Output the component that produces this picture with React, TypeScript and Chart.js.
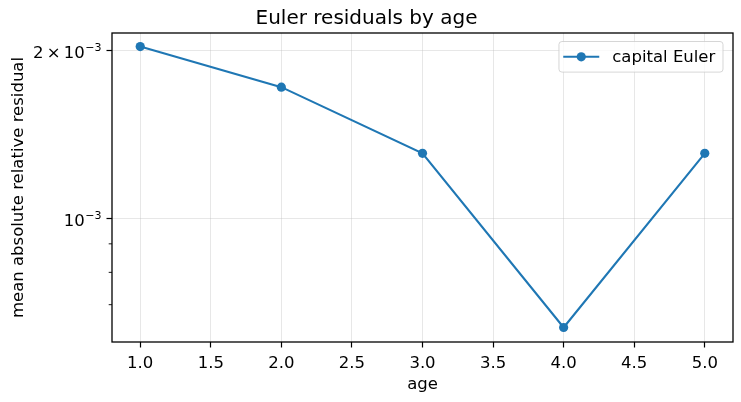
import React, { useEffect, useRef } from "react";
import { Chart, registerables } from "chart.js";

Chart.register(...registerables);

const ages = [1, 2, 3, 4, 5];
const capitalEuler = [2.033e-3, 1.719e-3, 1.308e-3, 6.37e-4, 1.308e-3];
const seriesLabel = "capital Euler";
const xTicks = [1, 1.5, 2, 2.5, 3, 3.5, 4, 4.5, 5];
const yMajorTicks = [1e-3, 2e-3];
const yMajorBase = ["10", "2\u2009×\u200910"];
const yMajorExp = ["−3", "−3"];
const yMinorTicks = [7e-4, 8e-4, 9e-4];
const chartTitle = "Euler residuals by age";
const xTitle = "age";
const yTitle = "mean absolute relative residual";

const BLUE = "#1f77b4";
const FONT = "'DejaVu Sans', sans-serif";
const GRID = "rgba(176,176,176,0.3)";
const FS = 16.5;
const SUP = 11;

const decorPlugin = {
  id: "decor",
  afterDraw(chart: any) {
    const { ctx, chartArea: a, scales } = chart;
    ctx.save();
    // minor ticks on y
    ctx.strokeStyle = "#000";
    ctx.lineWidth = 0.9;
    for (const v of yMinorTicks) {
      const py = scales.y.getPixelForValue(v);
      ctx.beginPath();
      ctx.moveTo(a.left - 3.3, py);
      ctx.lineTo(a.left, py);
      ctx.stroke();
    }
    // y major tick labels with superscript exponents
    ctx.fillStyle = "#000";
    ctx.textAlign = "right";
    ctx.textBaseline = "alphabetic";
    const xr = a.left - 10.5;
    yMajorTicks.forEach((v, i) => {
      const py = scales.y.getPixelForValue(v);
      ctx.font = `${SUP}px ${FONT}`;
      const sw = ctx.measureText(yMajorExp[i]).width;
      ctx.fillText(yMajorExp[i], xr, py + 0.5);
      ctx.font = `${FS}px ${FONT}`;
      ctx.fillText(yMajorBase[i], xr - sw - 0.5, py + 7.6);
    });
    // frame
    ctx.lineWidth = 1.3;
    ctx.strokeRect(a.left, a.top, a.right - a.left, a.bottom - a.top);
    // legend
    const ds = chart.data.datasets[0];
    ctx.font = `${FS}px ${FONT}`;
    const tw = ctx.measureText(ds.label).width;
    const right = a.right - 10;
    const top = a.top + 8.5;
    const h = 30.6;
    const w = 4.3 + 36 + 13 + tw + 7.7;
    const left = right - w;
    const r = 3;
    ctx.beginPath();
    ctx.moveTo(left + r, top);
    ctx.lineTo(right - r, top);
    ctx.quadraticCurveTo(right, top, right, top + r);
    ctx.lineTo(right, top + h - r);
    ctx.quadraticCurveTo(right, top + h, right - r, top + h);
    ctx.lineTo(left + r, top + h);
    ctx.quadraticCurveTo(left, top + h, left, top + h - r);
    ctx.lineTo(left, top + r);
    ctx.quadraticCurveTo(left, top, left + r, top);
    ctx.closePath();
    ctx.fillStyle = "rgba(255,255,255,0.8)";
    ctx.fill();
    ctx.strokeStyle = "rgba(204,204,204,0.8)";
    ctx.lineWidth = 1;
    ctx.stroke();
    const cy = top + h / 2;
    ctx.strokeStyle = BLUE;
    ctx.lineWidth = 2.1;
    ctx.beginPath();
    ctx.moveTo(left + 4.3, cy);
    ctx.lineTo(left + 40.3, cy);
    ctx.stroke();
    ctx.fillStyle = BLUE;
    ctx.beginPath();
    ctx.arc(left + 22.3, cy, 4.6, 0, Math.PI * 2);
    ctx.fill();
    ctx.fillStyle = "#000";
    ctx.textAlign = "left";
    ctx.textBaseline = "middle";
    ctx.fillText(ds.label, left + 53.3, cy + 0.5);
    ctx.restore();
  },
};

export default function App() {
  const ref = useRef<HTMLCanvasElement | null>(null);
  useEffect(() => {
    if (!ref.current) return;
    const chart = new Chart(ref.current, {
      type: "line",
      data: {
        datasets: [
          {
            label: seriesLabel,
            data: ages.map((a, i) => ({ x: a, y: capitalEuler[i] })),
            borderColor: BLUE,
            backgroundColor: BLUE,
            borderWidth: 2.1,
            pointRadius: 4.6,
            pointHoverRadius: 4.6,
            pointBorderWidth: 0,
            tension: 0,
          },
        ],
      },
      options: {
        animation: false,
        responsive: false,
        devicePixelRatio: 1,
        layout: { padding: { left: 0, right: 8, top: 0, bottom: 0 } },
        plugins: {
          legend: { display: false },
          tooltip: { enabled: false },
          title: {
            display: true,
            text: chartTitle,
            color: "#000",
            font: { family: FONT, size: 20, weight: "normal" },
            padding: { top: 7, bottom: 2 },
          },
        },
        scales: {
          x: {
            type: "linear",
            min: 0.8,
            max: 5.2,
            afterBuildTicks: (s: any) => {
              s.ticks = xTicks.map((v) => ({ value: v }));
            },
            afterFit: (s: any) => {
              s.height = 60;
            },
            ticks: {
              autoSkip: false,
              maxRotation: 0,
              color: "#000",
              font: { family: FONT, size: FS },
              padding: 6.5,
              callback: (v: any) => Number(v).toFixed(1),
            },
            grid: {
              color: GRID,
              lineWidth: 1,
              tickColor: "#000",
              tickLength: 5.5,
              tickWidth: 1.2,
            },
            border: { display: false },
            title: {
              display: true,
              text: xTitle,
              color: "#000",
              font: { family: FONT, size: FS },
              padding: { top: 0, bottom: 7 },
            },
          },
          y: {
            type: "logarithmic",
            min: 6.0e-4,
            max: 2.15e-3,
            afterBuildTicks: (s: any) => {
              s.ticks = yMajorTicks.map((v) => ({ value: v }));
            },
            afterFit: (s: any) => {
              s.width = 112;
            },
            ticks: {
              autoSkip: false,
              color: "#000",
              font: { family: FONT, size: FS },
              padding: 5,
              callback: () => "",
            },
            grid: {
              color: GRID,
              lineWidth: 1,
              tickColor: "#000",
              tickLength: 5.5,
              tickWidth: 1.2,
            },
            border: { display: false },
            title: {
              display: true,
              text: yTitle,
              color: "#000",
              font: { family: FONT, size: FS },
              padding: { top: 9, bottom: 0 },
            },
          },
        },
      },
      plugins: [decorPlugin],
    });
    return () => chart.destroy();
  }, []);
  return (
    <div style={{ position: "absolute", left: 0, top: 0, width: 741, height: 402, background: "#fff" }}>
      <canvas ref={ref} width={741} height={402} />
    </div>
  );
}
